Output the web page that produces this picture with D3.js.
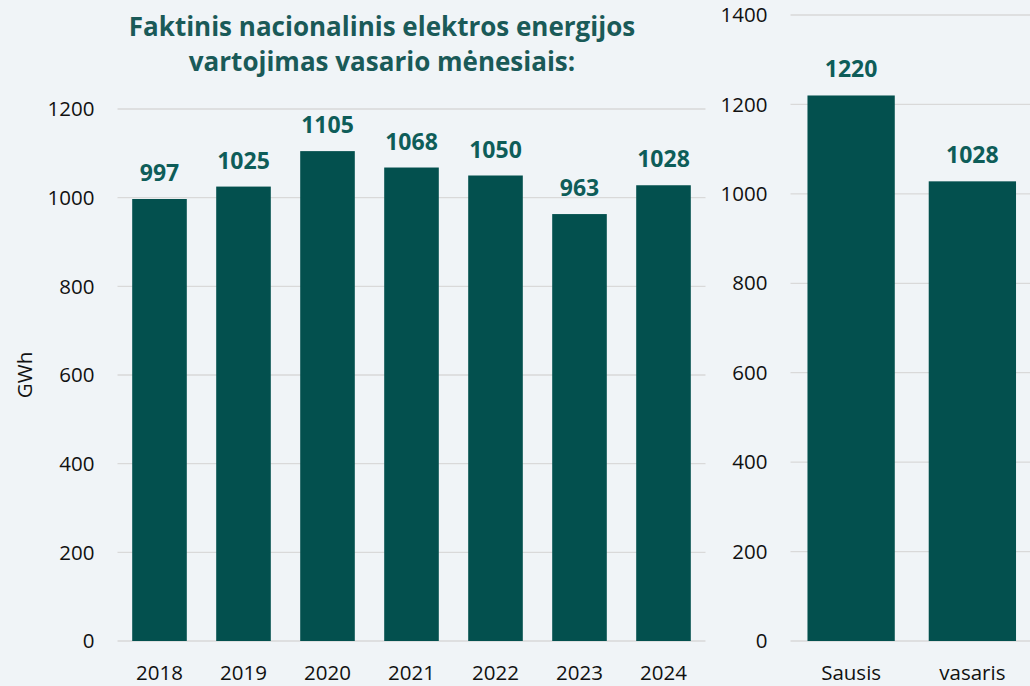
<!DOCTYPE html>
<html>
<head>
<meta charset="utf-8">
<script src="https://cdn.jsdelivr.net/npm/d3@7"></script>
<style>
  body { margin: 0; background: #f0f4f7; }
  svg { display: block; }
  text { font-family: "Open Sans", sans-serif; }
</style>
</head>
<body>
<div id="chart"></div>
<script>
// data
var years = ["2018", "2019", "2020", "2021", "2022", "2023", "2024"];
var yearValues = [997, 1025, 1105, 1068, 1050, 963, 1028];
var months = ["Sausis", "vasaris"];
var monthValues = [1220, 1028];
var leftTicks = [0, 200, 400, 600, 800, 1000, 1200];
var rightTicks = [0, 200, 400, 600, 800, 1000, 1200, 1400];
var titleLines = ["Faktinis nacionalinis elektros energijos", "vartojimas vasario mėnesiais:"];

var W = 1030, H = 686;
var barColor = "#03504e", labelColor = "#0e5d59", gridColor = "#d9d9d9";

const svg = d3.select("#chart")
  .append("svg")
    .attr("width", W)
    .attr("height", H);

svg.append("rect").attr("width", W).attr("height", H).attr("fill", "#f0f4f7");

// draws one bar panel
function panel(cats, vals, ticks, xr, yr, pad) {
  var x = d3.scaleBand().domain(cats).range(xr).paddingInner(pad).paddingOuter(pad / 2);
  var y = d3.scaleLinear().domain([0, d3.max(ticks)]).range(yr);

  var g = svg.append("g");

  // gridlines + tick labels
  g.selectAll(".grid")
    .data(ticks)
    .enter()
    .append("line")
      .attr("x1", xr[0]).attr("x2", xr[1])
      .attr("y1", d => y(d)).attr("y2", d => y(d))
      .attr("stroke", gridColor)
      .attr("stroke-width", 1.3);

  g.selectAll(".tick")
    .data(ticks)
    .enter()
    .append("text")
      .attr("x", xr[0] - 23)
      .attr("y", d => y(d))
      .attr("dy", "0.35em")
      .attr("text-anchor", "end")
      .attr("font-size", "20.5px")
      .attr("fill", "#111")
      .text(d => d);

  var data = cats.map((c, i) => ({c: c, v: vals[i]}));

  g.selectAll(".bar")
    .data(data)
    .enter()
    .append("rect")
      .attr("x", d => x(d.c))
      .attr("y", d => y(d.v))
      .attr("width", x.bandwidth())
      .attr("height", d => y(0) - y(d.v))
      .attr("fill", barColor);

  g.selectAll(".val")
    .data(data)
    .enter()
    .append("text")
      .attr("x", d => x(d.c) + x.bandwidth() / 2)
      .attr("y", d => y(d.v) - 18)
      .attr("text-anchor", "middle")
      .attr("font-size", "23px")
      .attr("font-weight", "bold")
      .attr("fill", labelColor)
      .text(d => d.v);

  g.selectAll(".cat")
    .data(cats)
    .enter()
    .append("text")
      .attr("x", d => x(d) + x.bandwidth() / 2)
      .attr("y", 680)
      .attr("text-anchor", "middle")
      .attr("font-size", "20.5px")
      .attr("fill", "#111")
      .text(d => d);
}

panel(years, yearValues, leftTicks, [117.5, 705.5], [641, 109], 0.35);
panel(months, monthValues, rightTicks, [790.5, 1033], [641, 15], 0.28);

// y axis label
svg.append("text")
  .attr("transform", "translate(32,375) rotate(-90)")
  .attr("text-anchor", "middle")
  .attr("font-size", "20.5px")
  .attr("fill", "#111")
  .text("GWh");

// title
svg.selectAll(".title")
  .data(titleLines)
  .enter()
  .append("text")
    .attr("x", 382)
    .attr("y", (d, i) => 36 + i * 35)
    .attr("text-anchor", "middle")
    .attr("font-size", "26px")
    .attr("font-weight", "bold")
    .attr("fill", "#1a5a58")
    .text(d => d);
</script>
</body>
</html>
